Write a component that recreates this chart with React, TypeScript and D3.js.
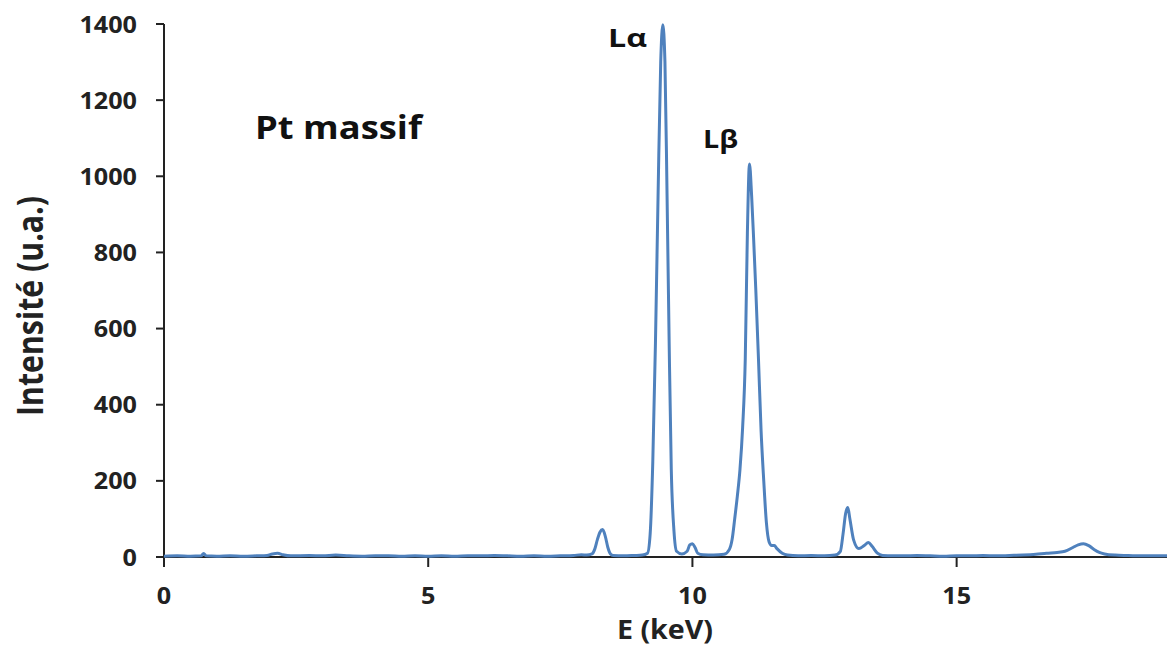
import React from "react";
import * as d3 from "d3";

const energy = [
  0, 0.25, 0.5, 0.7, 0.75, 0.8, 1.0, 1.25, 1.5, 1.75, 1.95, 2.05, 2.15, 2.25, 2.4,
  2.75, 3.0, 3.25, 3.5, 3.75, 4.0, 4.25, 4.5, 4.75, 5.0, 5.25, 5.5, 5.75, 6.0, 6.25,
  6.5, 6.75, 7.0, 7.25, 7.5, 7.75, 7.9, 8.0, 8.1, 8.15, 8.2, 8.25, 8.3, 8.35, 8.4,
  8.45, 8.5, 8.7, 8.9, 9.05, 9.15, 9.2, 9.25, 9.3, 9.35, 9.4, 9.44, 9.48, 9.52, 9.56,
  9.6, 9.65, 9.7, 9.8, 9.9, 9.95, 10.0, 10.05, 10.1, 10.2, 10.4, 10.6, 10.7, 10.75,
  10.8, 10.85, 10.9, 10.95, 11.0, 11.04, 11.08, 11.12, 11.16, 11.2, 11.25, 11.3,
  11.35, 11.4, 11.45, 11.5, 11.55, 11.6, 11.7, 11.8, 12.0, 12.25, 12.5, 12.7, 12.8,
  12.85, 12.9, 12.94, 12.98, 13.05, 13.15, 13.25, 13.33, 13.4, 13.5, 13.6, 13.8,
  14.0, 14.25, 14.5, 14.75, 15.0, 15.25, 15.5, 15.75, 16.0, 16.25, 16.5, 16.7, 16.9,
  17.05, 17.2, 17.3, 17.4, 17.5, 17.6, 17.7, 17.8, 18.0, 18.25, 18.5, 18.75, 19.0,
];

const intensity = [
  2, 3, 2, 3, 9, 3, 2, 3, 2, 3, 4, 8, 10, 6, 3,
  4, 3, 5, 3, 2, 3, 3, 2, 3, 2, 3, 2, 3, 3, 4,
  3, 2, 3, 2, 3, 4, 6, 5, 8, 20, 45, 65, 72, 55, 25,
  8, 4, 3, 4, 5, 10, 60, 250, 560, 950, 1300, 1398, 1300, 950, 560,
  230, 70, 15, 8, 15, 32, 35, 25, 10, 6, 5, 7, 20, 45,
  100, 160, 230, 340, 520, 850, 1032, 950, 830, 700, 520, 330,
  200, 90, 40, 30, 30, 22, 10, 5, 3, 4, 3, 5, 15,
  60, 115, 130, 100, 45, 22, 30, 38, 28, 10, 4, 3,
  3, 4, 3, 2, 3, 3, 4, 3, 4, 5, 7, 10, 12,
  15, 25, 32, 35, 30, 20, 12, 8, 5, 4, 3, 3, 3,
];

const yTicks = [0, 200, 400, 600, 800, 1000, 1200, 1400];
const xTicks = [0, 5, 10, 15];

const xTitle = "E (keV)";
const yTitle = "Intensité (u.a.)";
const sampleLabel = "Pt massif";
const peakLabels = [
  { text: "Lα", e: 9.44 },
  { text: "Lβ", e: 11.08 },
];

const W = 1167;
const H = 658;
const FONT = "'Open Sans', 'DejaVu Sans', sans-serif";
const SX = 1.05;

export default function App() {
  const x = d3.scaleLinear().domain([0, 19]).range([164, 1168]);
  const y = d3.scaleLinear().domain([0, 1400]).range([557, 24]);
  const pts = energy.map((e, i) => [e, intensity[i]] as [number, number]);
  const line = d3
    .line<[number, number]>()
    .x((d) => x(d[0]))
    .y((d) => y(d[1]))
    .curve(d3.curveMonotoneX);

  return (
    <svg
      width={W}
      height={H}
      style={{ position: "absolute", left: 0, top: 0, background: "#fff" }}
      fontFamily={FONT}
    >
      <defs>
        <clipPath id="plot">
          <rect x={0} y={0} width={W} height={H} />
        </clipPath>
      </defs>
      {/* y axis */}
      <line x1={x(0)} x2={x(0)} y1={y(1400)} y2={y(0) + 10} stroke="#222" strokeWidth={2} />
      {yTicks.map((t) => (
        <g key={"y" + t}>
          <line x1={x(0) - 8} x2={x(0)} y1={y(t)} y2={y(t)} stroke="#222" strokeWidth={2} />
          <text
            transform={`translate(137,${y(t) + 8.5}) scale(${SX},1)`}
            textAnchor="end"
            fontSize={24}
            fontWeight={700}
            fill="#222"
          >
            {t}
          </text>
        </g>
      ))}
      {/* x axis */}
      <line x1={x(0)} x2={W} y1={y(0)} y2={y(0)} stroke="#222" strokeWidth={2} />
      {xTicks.map((t) => (
        <g key={"x" + t}>
          <line x1={x(t)} x2={x(t)} y1={y(0)} y2={y(0) + 10} stroke="#222" strokeWidth={2} />
          <text
            transform={`translate(${x(t)},604) scale(${SX},1)`}
            textAnchor="middle"
            fontSize={24}
            fontWeight={700}
            fill="#222"
          >
            {t}
          </text>
        </g>
      ))}
      {/* data */}
      <path
        d={line(pts) || ""}
        fill="none"
        stroke="#4F81BD"
        strokeWidth={3}
        strokeLinejoin="round"
        clipPath="url(#plot)"
      />
      {/* titles */}
      <text
        x={665}
        y={639}
        textAnchor="middle"
        fontSize={26}
        fontWeight={700}
        fill="#222"
        textLength={96}
        lengthAdjust="spacingAndGlyphs"
      >
        {xTitle}
      </text>
      <text
        transform={`translate(43,306) rotate(-90)`}
        textAnchor="middle"
        fontSize={36}
        fontWeight={700}
        fill="#222"
        textLength={220}
        lengthAdjust="spacingAndGlyphs"
      >
        {yTitle}
      </text>
      <text
        x={255}
        y={139}
        fontSize={33}
        fontWeight={700}
        fill="#111"
        textLength={167}
        lengthAdjust="spacingAndGlyphs"
      >
        {sampleLabel}
      </text>
      <text
        x={608}
        y={47}
        fontSize={25}
        fontWeight={700}
        fill="#111"
        textLength={39}
        lengthAdjust="spacingAndGlyphs"
      >
        {peakLabels[0].text}
      </text>
      <text
        x={703}
        y={148}
        fontSize={25}
        fontWeight={700}
        fill="#111"
        textLength={35}
        lengthAdjust="spacingAndGlyphs"
      >
        {peakLabels[1].text}
      </text>
    </svg>
  );
}
